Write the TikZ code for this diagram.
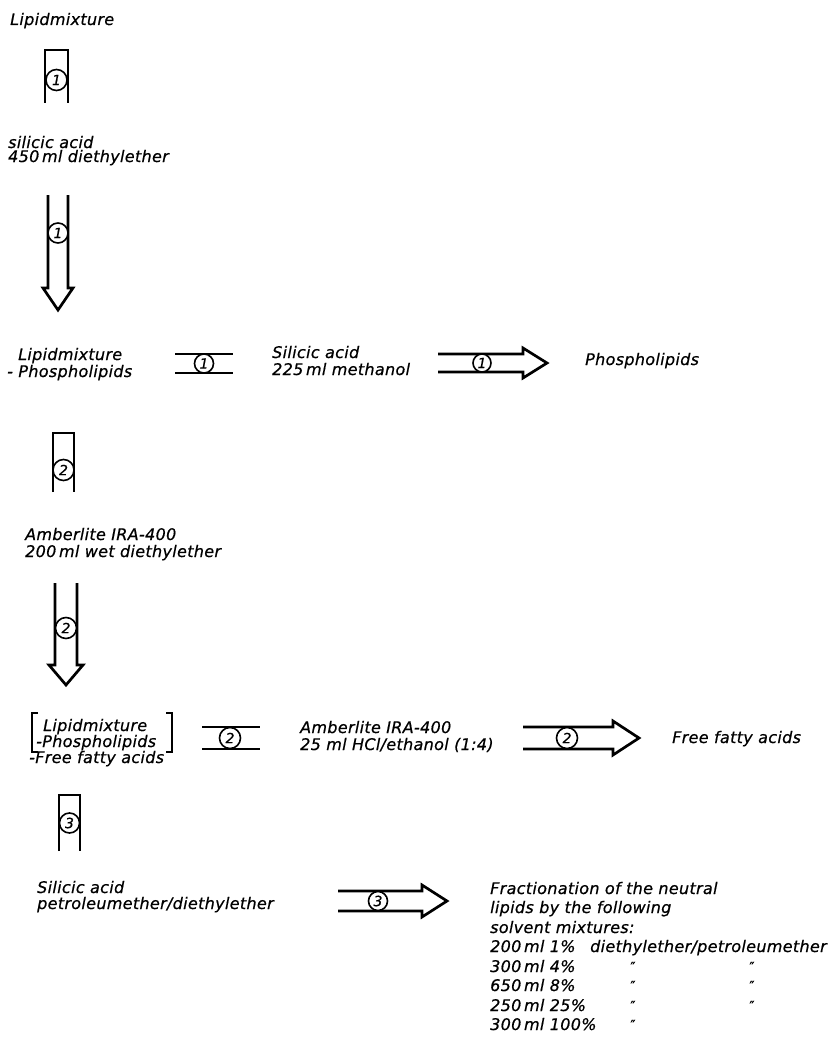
\documentclass[tikz,border=0pt]{standalone}
\usepackage{fontspec}
\setmainfont{DejaVu Sans}[LetterSpace=2,FakeBold=0.6]
\newcommand{\HollowDown}[6]{%
  \draw[sym] (#1-#2,#3) -- (#1-#2,#4) -- (#1-#2-#6,#4) -- (#1,#5) -- (#1+#2+#6,#4) -- (#1+#2,#4) -- (#1+#2,#3);}
\newcommand{\HollowRight}[6]{%
  \draw[sym] (#1,#4-#5) -- (#2,#4-#5) -- (#2,#4-#5-#6) -- (#3,#4) -- (#2,#4+#5+#6) -- (#2,#4+#5) -- (#1,#4+#5);}
\begin{document}
\begin{tikzpicture}[x=1pt,y=-1pt,
  txt/.style={anchor=base west, inner sep=0pt, font=\fontsize{16}{16}\selectfont\itshape},
  dit/.style={anchor=base, inner sep=0pt, font=\fontsize{14}{14}\selectfont},
  num/.style={circle, draw, line width=1.6pt, fill=white, inner sep=0pt, minimum size=20pt, font=\fontsize{14}{14}\selectfont\itshape},
  sym/.style={line width=2.7pt, line join=miter},
  brk/.style={line width=1.9pt}]
\useasboundingbox (0,0) rectangle (829,1038);

% ---- top
\node[txt] (t1) at (10,25) {Lipidmixture};
\draw[sym] (45,103) -- (45,50) -- (68,50) -- (68,103);
\node[num, minimum size=21pt] (c1) at (56.5,80) {1};
\node[txt] (t2a) at (8,148) {silicic acid};
\node[txt] (t2b) at (8,162) {450\,ml diethylether};
\HollowDown{58}{10}{195}{288}{310}{5}
\node[num] (c2) at (58,233) {1};

% ---- row 1
\node[txt] (l1a) at (18,360) {Lipidmixture};
\node[txt] (l1b) at (7,377) {- Phospholipids};
\draw[sym] (175,354) -- (233,354);
\draw[sym] (175,373) -- (233,373);
\node[num, minimum size=19pt] (c3) at (204,363.5) {1};
\node[txt] (m1a) at (272,358) {Silicic acid};
\node[txt] (m1b) at (272,375) {225\,ml methanol};
\HollowRight{438}{523}{547}{363}{9}{6}
\node[num, minimum size=18pt] (c4) at (482,363) {1};
\node[txt] (r1) at (585,365) {Phospholipids};

% ---- column 2
\draw[sym] (53,492) -- (53,433) -- (74,433) -- (74,492);
\node[num, minimum size=21pt] (c5) at (63.5,470) {2};
\node[txt] (t3a) at (25,540) {Amberlite IRA-400};
\node[txt] (t3b) at (25,557) {200\,ml wet diethylether};
\HollowDown{66}{11}{583}{665}{685}{6}
\node[num, minimum size=21pt] (c6) at (66,628) {2};

% ---- row 2
\draw[brk] (38,713) -- (32,713) -- (32,752) -- (38,752);
\draw[brk] (166,713) -- (172,713) -- (172,752) -- (166,752);
\node[txt] (l2a) at (43,731) {Lipidmixture};
\node[txt] (l2b) at (36,747) {-Phospholipids};
\node[txt] (l2c) at (29,763) {-Free fatty acids};
\draw[sym] (202,727) -- (260,727);
\draw[sym] (202,749) -- (260,749);
\node[num, minimum size=21pt] (c7) at (230,738) {2};
\node[txt] (m2a) at (300,733) {Amberlite IRA-400};
\node[txt] (m2b) at (300,750) {25 ml HCl/ethanol (1:4)};
\HollowRight{523}{613}{639}{738}{11}{6}
\node[num, minimum size=21pt] (c8) at (567,738) {2};
\node[txt] (r2) at (672,743) {Free fatty acids};

% ---- column 3
\draw[sym] (59,851) -- (59,795) -- (80,795) -- (80,851);
\node[num, minimum size=20pt] (c9) at (69.5,823) {3};

% ---- row 3
\node[txt] (l3a) at (37,893) {Silicic acid};
\node[txt] (l3b) at (37,909) {petroleumether/diethylether};
\HollowRight{338}{422}{447}{901}{10}{6}
\node[num, minimum size=19pt] (c10) at (378,901) {3};

% ---- table
\node[txt] (f1) at (490,894) {Fractionation of the neutral};
\node[txt] (f2) at (490,913) {lipids by the following};
\node[txt] (f3) at (490,933) {solvent mixtures:};
\node[txt] (s1) at (490,952) {200\,ml 1\%};
\node[txt] (s1b) at (590,952) {diethylether/petroleumether};
\node[txt] (s2) at (490,972) {300\,ml 4\%};
\node[txt] (s3) at (490,991) {650\,ml 8\%};
\node[txt] (s4) at (490,1011) {250\,ml 25\%};
\node[txt] (s5) at (490,1030) {300\,ml 100\%};
\node[dit] (d2a) at (633,972) {″};
\node[dit] (d2b) at (752,972) {″};
\node[dit] (d3a) at (633,991) {″};
\node[dit] (d3b) at (752,991) {″};
\node[dit] (d4a) at (633,1011) {″};
\node[dit] (d4b) at (752,1011) {″};
\node[dit] (d5a) at (633,1030) {″};
\end{tikzpicture}
\end{document}
